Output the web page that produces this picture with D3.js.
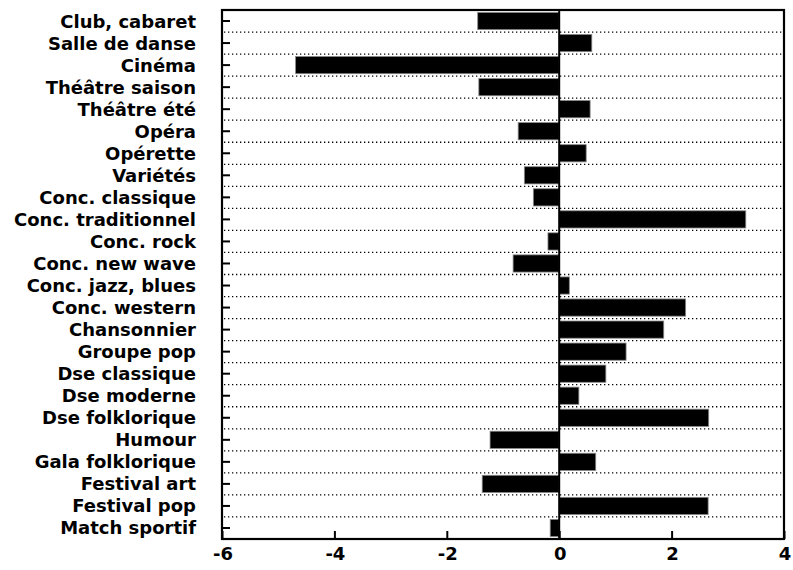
<!DOCTYPE html>
<html>
<head>
<meta charset="utf-8">
<script src="https://cdn.jsdelivr.net/npm/d3@7"></script>
<style>
  html, body { margin: 0; padding: 0; background: #fff; }
  svg { display: block; }
  text { font-family: "DejaVu Sans", "Liberation Sans", Arial, sans-serif; font-weight: bold; fill: #000; }
</style>
</head>
<body>
<svg id="chart" width="793" height="570"></svg>
<script>
// Spectacles et sorties: écart par catégorie
const categories = [
  "Club, cabaret", "Salle de danse", "Cinéma", "Théâtre saison", "Théâtre été",
  "Opéra", "Opérette", "Variétés", "Conc. classique", "Conc. traditionnel",
  "Conc. rock", "Conc. new wave", "Conc. jazz, blues", "Conc. western",
  "Chansonnier", "Groupe pop", "Dse classique", "Dse moderne", "Dse folklorique",
  "Humour", "Gala folklorique", "Festival art", "Festival pop", "Match sportif"
];
const values = [
  -1.45, 0.58, -4.69, -1.43, 0.55,
  -0.73, 0.48, -0.62, -0.46, 3.32,
  -0.20, -0.82, 0.18, 2.25,
  1.86, 1.19, 0.83, 0.35, 2.66,
  -1.23, 0.65, -1.37, 2.65, -0.16
];
const xTicks = [-6, -4, -2, 0, 2, 4];

const data = categories.map((c, i) => ({ cat: c, v: values[i] }));

const svg = d3.select("#chart");
const plotLeft = 222, plotRight = 784, plotTop = 10, plotBottom = 539;

const x = d3.scaleLinear().domain([-6, 4]).range([plotLeft, plotRight]);
const y = d3.scaleBand().domain(categories).range([plotTop, plotBottom]).paddingInner(0.22).paddingOuter(0.11);
const step = y.step();

// dotted separators between rows
svg.append("g")
  .selectAll("line")
  .data(categories.slice(0, -1))
  .join("line")
  .attr("x1", plotLeft + 2)
  .attr("x2", plotRight - 1)
  .attr("y1", d => y(d) + y.bandwidth() / 2 + step / 2)
  .attr("y2", d => y(d) + y.bandwidth() / 2 + step / 2)
  .attr("stroke", "#000")
  .attr("stroke-width", 1.3)
  .attr("stroke-dasharray", "1.3,2.7");

// bars
svg.append("g")
  .selectAll("rect")
  .data(data)
  .join("rect")
  .attr("x", d => x(Math.min(0, d.v)))
  .attr("width", d => Math.abs(x(d.v) - x(0)))
  .attr("y", d => y(d.cat))
  .attr("height", y.bandwidth())
  .attr("fill", "#000")
  .attr("stroke", "#888")
  .attr("stroke-width", 0.8);

// zero line
svg.append("line")
  .attr("x1", x(0)).attr("x2", x(0))
  .attr("y1", plotTop).attr("y2", plotBottom)
  .attr("stroke", "#000").attr("stroke-width", 2);

// left axis ticks (inward)
const yAxis = d3.axisLeft(y).tickSize(-8).tickFormat("").tickSizeOuter(0);
svg.append("g")
  .attr("transform", `translate(${plotLeft},0)`)
  .call(yAxis)
  .call(g => g.select(".domain").remove())
  .call(g => g.selectAll(".tick line").attr("stroke", "#000").attr("stroke-width", 2));

// bottom axis ticks (inward)
const xAxis = d3.axisBottom(x).tickValues(xTicks).tickSize(-8).tickFormat("").tickSizeOuter(0);
svg.append("g")
  .attr("transform", `translate(0,${plotBottom})`)
  .call(xAxis)
  .call(g => g.select(".domain").remove())
  .call(g => g.selectAll(".tick line").attr("stroke", "#000").attr("stroke-width", 2));

// frame
svg.append("rect")
  .attr("x", plotLeft).attr("y", plotTop)
  .attr("width", plotRight - plotLeft).attr("height", plotBottom - plotTop)
  .attr("fill", "none").attr("stroke", "#000").attr("stroke-width", 2.2);

// category labels
svg.append("g")
  .selectAll("text")
  .data(categories)
  .join("text")
  .attr("x", 196)
  .attr("y", d => y(d) + y.bandwidth() / 2)
  .attr("dy", "0.36em")
  .attr("text-anchor", "end")
  .attr("font-size", 18)
  .text(d => d);

// x tick labels
svg.append("g")
  .selectAll("text")
  .data(xTicks)
  .join("text")
  .attr("x", d => x(d) + 1)
  .attr("y", 554)
  .attr("dy", "0.36em")
  .attr("text-anchor", "middle")
  .attr("font-size", 18)
  .text(d => d < 0 ? "-" + Math.abs(d) : String(d));
</script>
</body>
</html>
